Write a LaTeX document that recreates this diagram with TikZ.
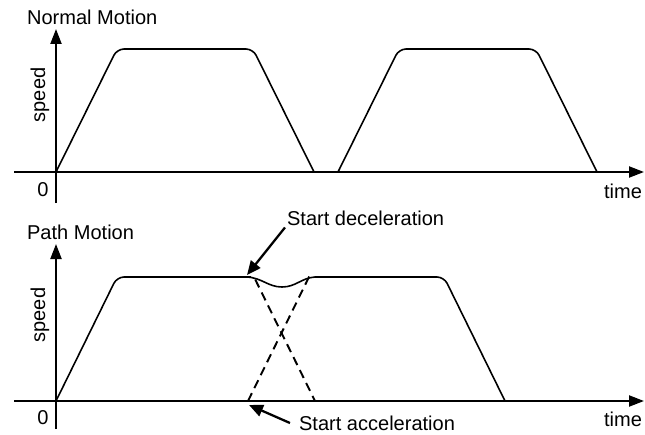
\documentclass[tikz,border=0pt]{standalone}
\usepackage{fontspec}
\setmainfont{Liberation Sans}
\usetikzlibrary{arrows.meta, positioning, calc}

\begin{document}
\begin{tikzpicture}[>={Triangle[length=0.3cm, width=0.22cm]},
  axis/.style={->, line width=1.2pt},
  profile/.style={line width=0.9pt, rounded corners=4pt},
  ghost/.style={line width=1.1pt, dash pattern=on 5pt off 3.2pt},
  callout/.style={-{Triangle[length=0.28cm, width=0.24cm]}, line width=1.3pt},
  lbl/.style={font=\fontsize{11.4}{13}\selectfont, inner sep=1pt}]
  \useasboundingbox (0,0) rectangle (12.9,8.68);

  % normal motion
  \coordinate (ylo1) at (1.12,4.62);
  \coordinate (yhi1) at (1.12,8.10);
  \coordinate (xlo1) at (0.28,5.24);
  \coordinate (xhi1) at (12.88,5.24);
  \draw[axis] (ylo1) -- (yhi1);
  \draw[axis] (xlo1) -- (xhi1);
  \node[lbl, anchor=west] (normal) at (0.50,8.34) {Normal Motion};
  \node[lbl, rotate=90] (speed1) at (0.80,6.78) {speed};
  \node[lbl] (zero1) at (0.86,4.88) {0};
  \node[lbl] (time1) at (12.46,4.86) {time};
  \draw[profile] (1.12,5.24) -- (2.34,7.70) -- (5.06,7.70) -- (6.28,5.24);
  \draw[profile] (6.76,5.24) -- (7.98,7.70) -- (10.72,7.70) -- (11.94,5.24);

  % path motion
  \coordinate (ylo2) at (1.12,0.10);
  \coordinate (yhi2) at (1.12,3.80);
  \coordinate (xlo2) at (0.28,0.66);
  \coordinate (xhi2) at (12.88,0.66);
  \draw[axis] (ylo2) -- (yhi2);
  \draw[axis] (xlo2) -- (xhi2);
  \node[lbl, anchor=west] (path) at (0.50,4.04) {Path Motion};
  \node[lbl, rotate=90] (speed2) at (0.80,2.38) {speed};
  \node[lbl] (zero2) at (0.86,0.32) {0};
  \node[lbl] (time2) at (12.46,0.30) {time};
  \draw[profile] (1.12,0.66) -- (2.34,3.14) -- (4.94,3.14);
  \draw[line width=0.9pt] (4.94,3.14)
    .. controls (5.25,3.12) and (5.36,2.94) .. (5.64,2.94)
    .. controls (5.92,2.94) and (6.02,3.12) .. (6.30,3.14);
  \draw[profile] (6.30,3.14) -- (8.88,3.14) -- (10.10,0.66);
  \draw[ghost] (4.56,3.14) -- (5.08,3.14) -- (6.30,0.66);
  \draw[ghost] (4.96,0.66) -- (6.18,3.14) -- (6.74,3.14);

  % callouts
  \node[lbl, anchor=west] (decel) at (5.70,4.32) {Start deceleration};
  \coordinate (decpt) at (4.94,3.18);
  \draw[callout] (decel.south west) -- (decpt);
  \node[lbl, anchor=west] (accel) at (5.94,0.22) {Start acceleration};
  \coordinate (accpt) at (4.98,0.58);
  \draw[callout] ([xshift=-4pt]accel.west) -- (accpt);
\end{tikzpicture}
\end{document}
